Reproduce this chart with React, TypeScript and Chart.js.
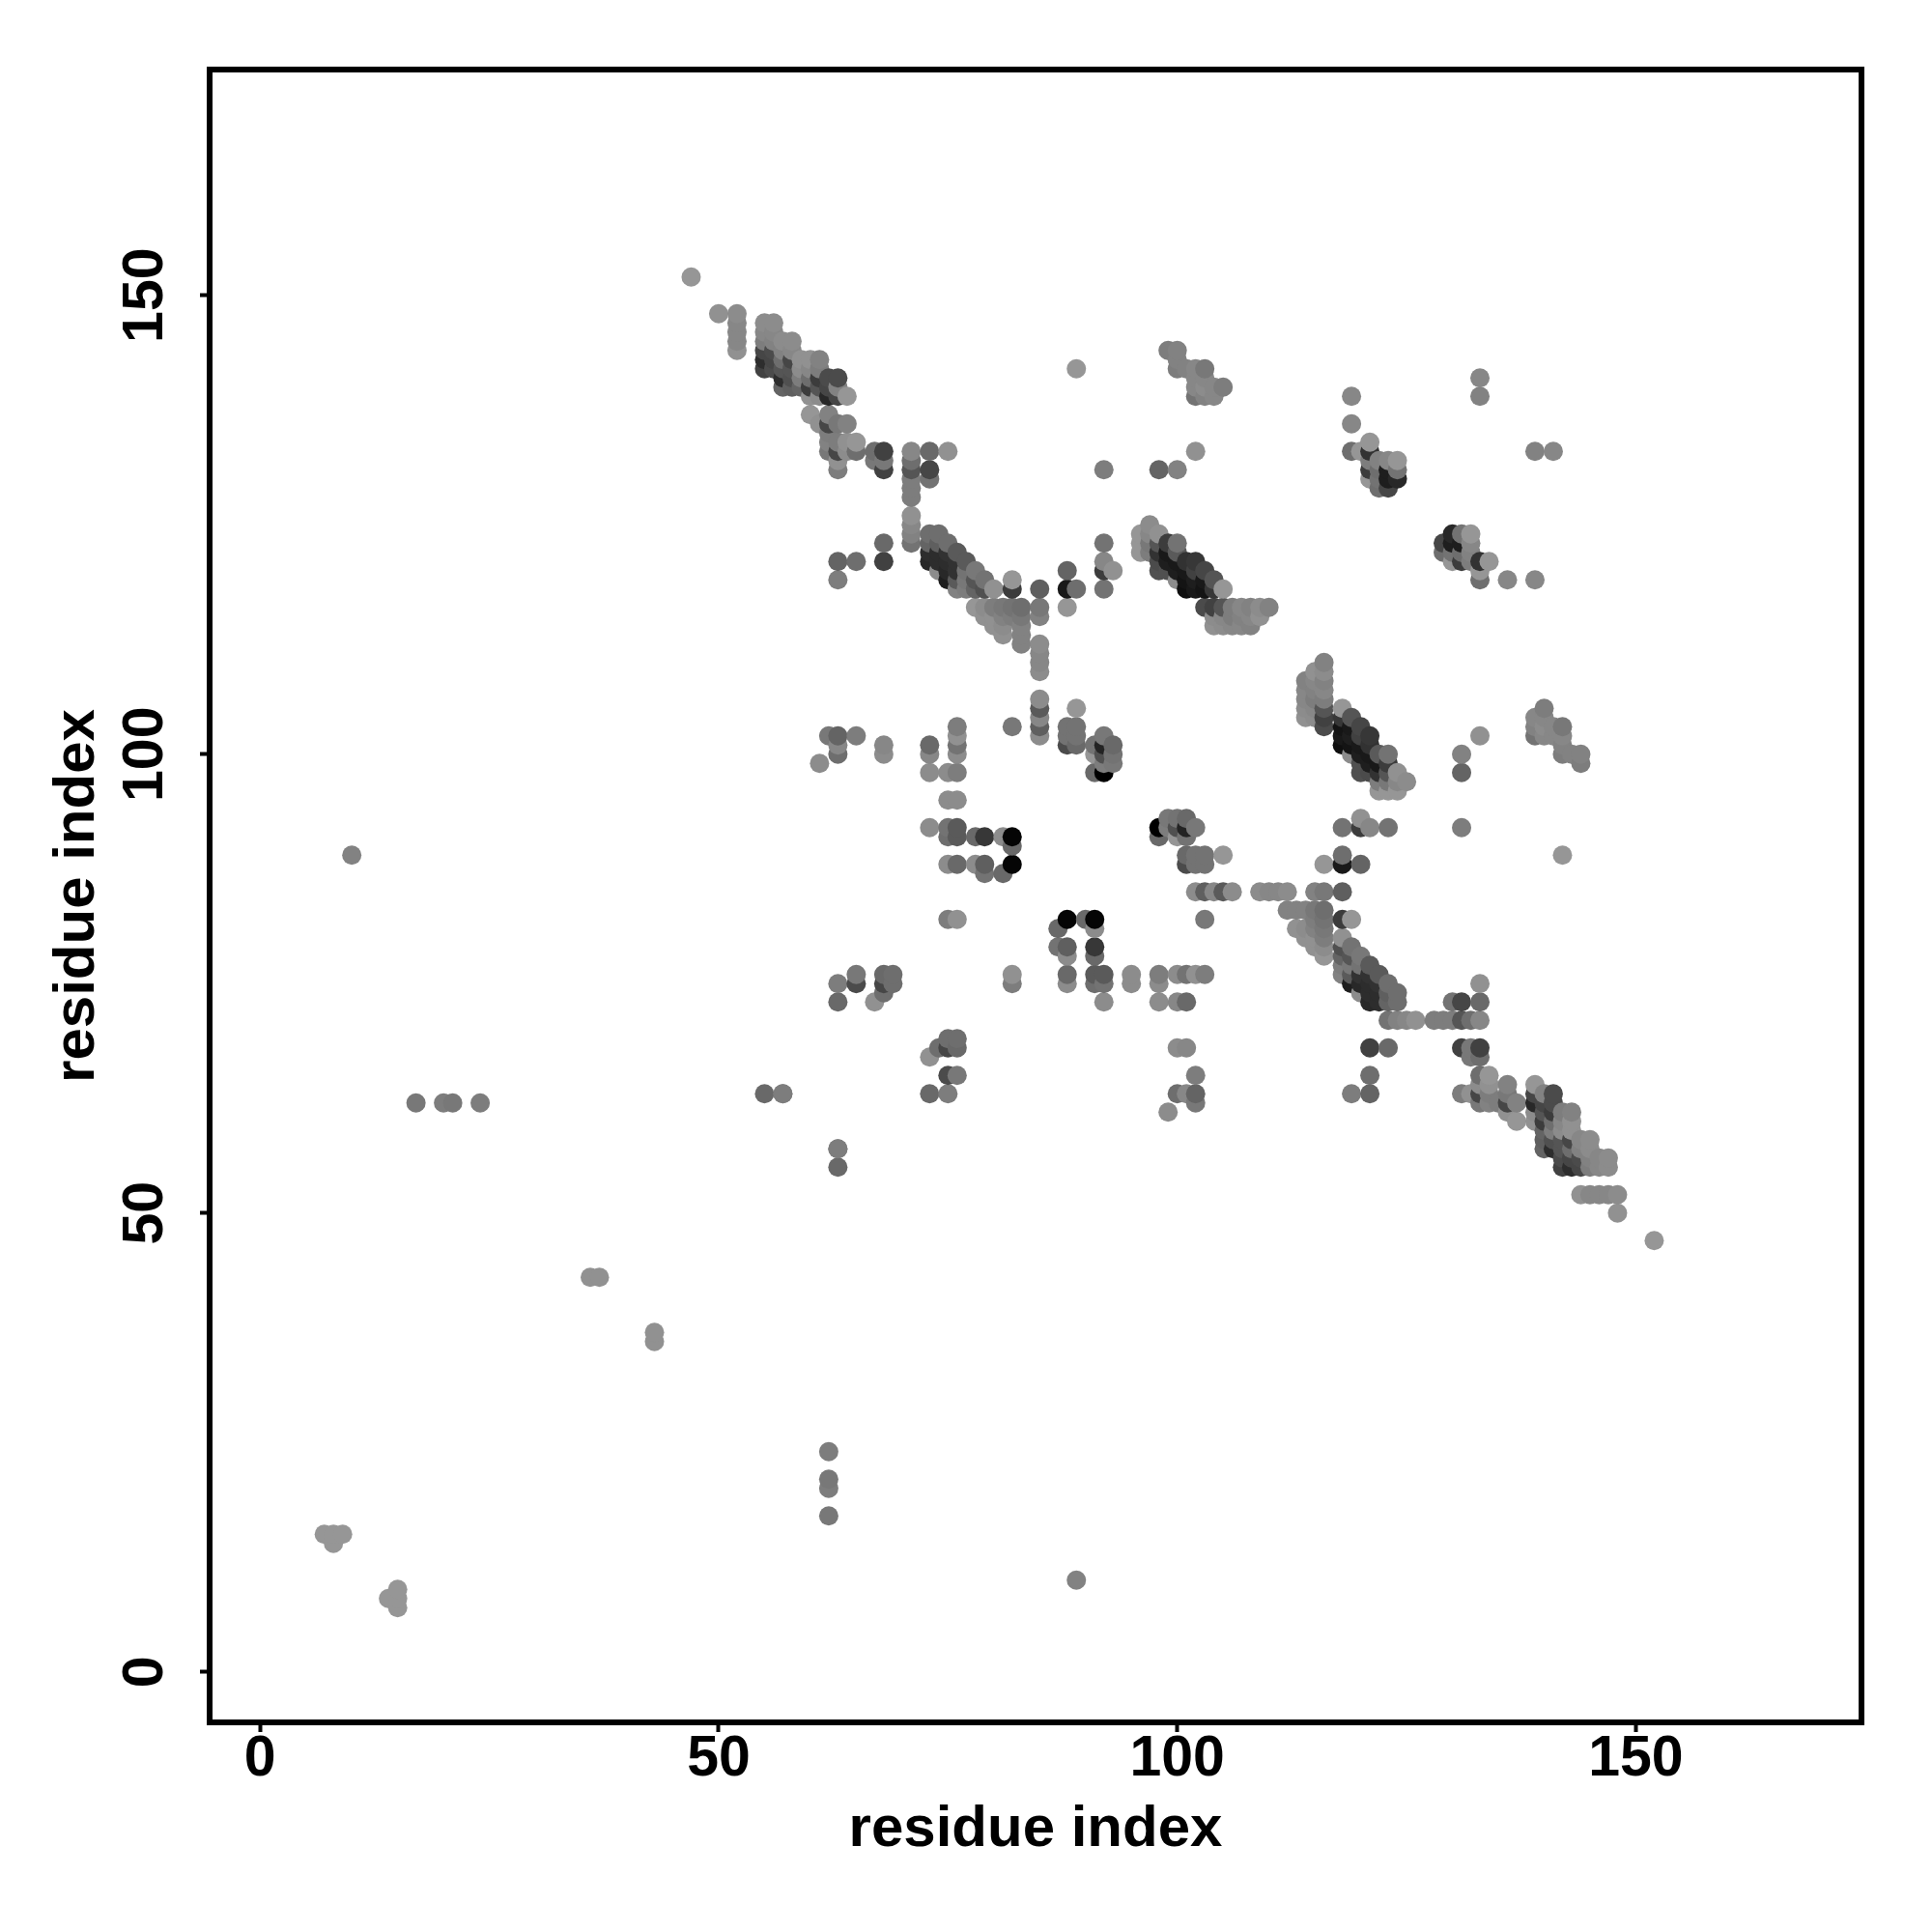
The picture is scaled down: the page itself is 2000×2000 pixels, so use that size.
import { useEffect, useRef } from "react";
import { Chart, registerables } from "chart.js";

Chart.register(...registerables);

// Each contact: [residue i, residue j, grey level]. The map is symmetric, so (j, i) is drawn as well.
type Contact = [number, number, number];

const tailContacts: Contact[] = [
  [7, 15, 150], [8, 15, 150], [9, 15, 150], [8, 14, 150], [10, 89, 130], [17, 62, 120], [20, 62, 125], [21, 62, 120],
  [24, 62, 125], [36, 43, 145], [37, 43, 145], [47, 152, 150], [50, 148, 145],
  [52, 148, 140], [52, 147, 135], [52, 146, 135], [52, 145, 135], [52, 144, 145], [55, 63, 105], [57, 63, 125],
];

const bandNterm: Contact[] = [
  [55, 147, 140], [55, 146, 135], [55, 145, 125], [55, 144, 70], [55, 143, 45], [55, 142, 65],
  [56, 147, 140], [56, 146, 135], [56, 145, 130], [56, 144, 75], [56, 143, 70], [56, 142, 75],
  [57, 145, 140], [57, 144, 130], [57, 143, 110], [57, 142, 85], [57, 141, 45], [57, 140, 100],
  [58, 145, 140], [58, 144, 135], [58, 143, 70], [58, 142, 85], [58, 141, 80], [58, 140, 95],
  [59, 143, 145], [59, 142, 140], [59, 141, 125], [59, 140, 100],
  [60, 143, 145], [60, 142, 135], [60, 141, 110], [60, 140, 60], [60, 139, 145], [60, 137, 150],
  [61, 143, 130], [61, 142, 125], [61, 141, 60], [61, 140, 85], [61, 139, 140], [61, 136, 145],
  [62, 141, 75], [62, 140, 70], [62, 139, 40], [62, 137, 130], [62, 136, 70], [62, 135, 125], [62, 134, 130], [62, 133, 120],
  [63, 141, 75], [63, 140, 130], [63, 139, 70], [63, 136, 120], [63, 134, 125], [63, 133, 70], [63, 132, 145], [63, 131, 125],
  [64, 139, 150], [64, 136, 130], [64, 134, 145], [64, 133, 140],
  [65, 134, 150], [65, 133, 110],
];

const loopContacts: Contact[] = [
  [67, 133, 110], [67, 132, 120], [68, 133, 65], [68, 132, 120], [68, 131, 65],
  [71, 133, 135], [71, 132, 110], [71, 131, 85], [71, 130, 125], [71, 129, 125], [71, 128, 125],
  [71, 126, 145], [71, 125, 135], [71, 124, 130], [71, 123, 115],
  [73, 133, 105], [73, 131, 70], [73, 130, 115], [75, 133, 145], [89, 142, 150], [92, 131, 125],
  [68, 123, 105], [68, 121, 65], [63, 121, 100], [65, 121, 110], [63, 119, 125],
  [61, 99, 140], [62, 102, 120], [63, 102, 100], [63, 101, 135], [63, 100, 110], [65, 102, 125],
  [68, 101, 135], [68, 100, 140], [73, 101, 105], [73, 100, 135], [73, 98, 140], [75, 98, 140], [76, 98, 125],
  [76, 103, 125], [76, 102, 145], [76, 101, 115], [76, 100, 140], [75, 95, 140], [76, 95, 140],
  [73, 92, 140], [75, 92, 115], [76, 92, 90], [75, 91, 110], [76, 91, 90],
  [78, 91, 105], [79, 91, 55], [81, 91, 140], [82, 91, 5], [82, 90, 105], [82, 88, 5],
  [81, 87, 105], [79, 87, 115], [79, 88, 95], [78, 88, 140], [75, 88, 140], [76, 88, 105],
  [82, 103, 120], [75, 82, 125], [76, 82, 145],
  [63, 75, 125], [63, 73, 105], [65, 76, 120], [65, 75, 75], [67, 73, 145], [68, 76, 105], [69, 76, 110],
  [68, 75, 70], [69, 75, 110], [68, 74, 110], [63, 57, 125],
];

const bandMiddle: Contact[] = [
  [73, 124, 110], [73, 123, 100], [73, 122, 45], [73, 121, 40],
  [74, 124, 110], [74, 123, 95], [74, 122, 45], [74, 121, 45], [74, 120, 140],
  [75, 123, 110], [75, 122, 50], [75, 121, 45], [75, 120, 40], [75, 119, 30],
  [76, 122, 90], [76, 121, 50], [76, 120, 50], [76, 119, 90], [76, 118, 130],
  [77, 121, 90], [77, 120, 115], [77, 119, 120], [77, 118, 125],
  [78, 120, 120], [78, 119, 85], [78, 118, 100], [79, 119, 115], [79, 118, 80], [80, 118, 145],
  [78, 116, 150], [79, 116, 140], [80, 116, 125], [81, 116, 120], [82, 116, 115], [83, 116, 110],
  [79, 115, 145], [80, 115, 145], [81, 115, 130], [82, 115, 125], [83, 115, 120],
  [80, 114, 145], [81, 114, 140], [83, 114, 130], [81, 113, 145], [83, 113, 130], [83, 112, 130],
  [82, 119, 150], [82, 118, 60],
  [85, 118, 95], [85, 116, 120], [85, 115, 130], [85, 112, 140], [85, 111, 135], [85, 110, 135], [85, 109, 140],
  [85, 106, 140], [85, 105, 90], [85, 104, 135], [85, 103, 95], [85, 102, 140],
  [88, 120, 100], [88, 118, 25], [89, 118, 110], [88, 116, 150],
  [92, 123, 115], [92, 121, 135], [92, 120, 60], [93, 120, 145], [92, 118, 115],
  [89, 105, 150], [88, 103, 115], [89, 103, 115], [88, 102, 115], [89, 102, 115], [88, 101, 75], [89, 101, 105],
  [91, 101, 115], [91, 100, 150], [91, 98, 105],
  [92, 102, 120], [92, 101, 35], [92, 100, 80], [92, 99, 125], [92, 98, 0],
  [93, 101, 105], [93, 100, 115], [93, 99, 120],
];

const bandCterm: Contact[] = [
  [96, 124, 150], [96, 123, 150], [96, 122, 150],
  [97, 125, 140], [97, 124, 135], [97, 123, 120], [97, 122, 125],
  [98, 124, 145], [98, 123, 85], [98, 122, 50], [98, 121, 75], [98, 120, 80],
  [99, 123, 60], [99, 122, 25], [99, 121, 30], [99, 120, 80],
  [100, 123, 115], [100, 122, 90], [100, 121, 25], [100, 120, 30], [100, 119, 140],
  [101, 121, 50], [101, 120, 25], [101, 119, 20], [101, 118, 15],
  [102, 121, 55], [102, 120, 65], [102, 119, 30], [102, 118, 25],
  [103, 120, 70], [103, 119, 25], [103, 118, 20], [104, 119, 85], [104, 118, 55], [105, 118, 150],
  [103, 116, 75], [104, 116, 65], [105, 116, 85], [106, 116, 125], [107, 116, 135], [108, 116, 130], [109, 116, 140], [110, 116, 130],
  [104, 115, 140], [105, 115, 135], [106, 115, 125], [107, 115, 130], [108, 115, 135], [109, 115, 145],
  [104, 114, 145], [105, 114, 140], [106, 114, 135], [107, 114, 135], [108, 114, 130],
];

const farContacts: Contact[] = [
  [99, 144, 125], [100, 144, 130], [100, 143, 130], [100, 142, 125], [101, 142, 130], [102, 142, 135], [103, 142, 120],
  [102, 141, 135], [102, 140, 135], [102, 139, 115], [103, 141, 135], [103, 140, 140], [103, 139, 130],
  [104, 140, 135], [104, 139, 135], [105, 140, 125],
  [98, 131, 100], [100, 131, 130], [102, 133, 145],
  [119, 139, 135], [119, 136, 135], [119, 133, 110], [120, 133, 150], [121, 134, 150], [121, 133, 50],
  [121, 132, 125], [121, 131, 60], [121, 130, 150],
  [122, 132, 130], [122, 131, 110], [122, 130, 115], [122, 129, 110],
  [123, 132, 135], [123, 131, 30], [123, 130, 30], [123, 129, 70],
  [124, 132, 150], [124, 131, 115], [124, 130, 40],
  [133, 141, 135], [133, 139, 130],
];

const allContacts: Contact[] = [
  ...tailContacts, ...bandNterm, ...loopContacts, ...bandMiddle, ...bandCterm, ...farContacts,
];

const tickValues = [0, 50, 100, 150];
const axisTitle = "residue index";
const axisMin = -5.5;
const axisMax = 174.6;

export default function App() {
  const ref = useRef<HTMLCanvasElement>(null);
  useEffect(() => {
    document.body.style.margin = "0";
    const points = allContacts
      .flatMap(([i, j, s]) => [
        { x: i, y: j, s },
        { x: j, y: i, s },
      ])
      .sort((a, b) => a.x - b.x || a.y - b.y);
    const tickFont = 'bold 59px "Liberation Sans"';
    const frame = {
      id: "frame",
      afterDraw(c: any) {
        const { ctx, chartArea: a, scales } = c;
        ctx.save();
        ctx.strokeStyle = "#000";
        ctx.lineWidth = 6;
        ctx.strokeRect(a.left, a.top, a.right - a.left, a.bottom - a.top);
        ctx.fillStyle = "#000";
        ctx.font = tickFont;
        ctx.textAlign = "center";
        ctx.textBaseline = "middle";
        for (const v of tickValues) {
          ctx.save();
          ctx.translate(152, scales.y.getPixelForValue(v));
          ctx.rotate(-Math.PI / 2);
          ctx.fillText(String(v), 0, 0);
          ctx.restore();
        }
        ctx.restore();
      },
    };
    const chart = new Chart(ref.current!, {
      type: "scatter",
      data: {
        datasets: [
          {
            data: points,
            pointBackgroundColor: points.map((p) => `rgb(${p.s},${p.s},${p.s})`),
            pointBorderWidth: 0,
            pointRadius: 10,
            pointHoverRadius: 10,
            clip: false,
          },
        ],
      },
      options: {
        animation: false,
        responsive: false,
        layout: { padding: { top: 72, right: 73, left: 0, bottom: 0 } },
        plugins: { legend: { display: false }, tooltip: { enabled: false } },
        scales: {
          x: {
            type: "linear",
            min: axisMin,
            max: axisMax,
            afterBuildTicks: (s: any) => {
              s.ticks = tickValues.map((value) => ({ value }));
            },
            afterFit: (s: any) => {
              s.height = 217;
            },
            border: { display: false },
            grid: { drawOnChartArea: false, tickLength: 10, tickWidth: 4, tickColor: "#000" },
            ticks: { color: "#000", font: { family: "Liberation Sans", weight: "bold", size: 59 }, padding: -7, maxRotation: 0 },
            title: {
              display: true,
              text: axisTitle,
              color: "#000",
              font: { family: "Liberation Sans", weight: "bold", size: 60, lineHeight: 1 },
              padding: { top: 0, bottom: 76 },
            },
          },
          y: {
            type: "linear",
            min: axisMin,
            max: axisMax,
            afterBuildTicks: (s: any) => {
              s.ticks = tickValues.map((value) => ({ value }));
            },
            afterFit: (s: any) => {
              s.width = 217;
            },
            border: { display: false },
            grid: { drawOnChartArea: false, tickLength: 10, tickWidth: 4, tickColor: "#000" },
            ticks: { display: false },
            title: {
              display: true,
              text: axisTitle,
              color: "#000",
              font: { family: "Liberation Sans", weight: "bold", size: 60, lineHeight: 1 },
              padding: { top: 50, bottom: 0 },
            },
          },
        },
      },
      plugins: [frame],
    } as any);
    return () => chart.destroy();
  }, []);
  return <canvas ref={ref} width={2000} height={2000} style={{ display: "block", width: 2000, height: 2000 }} />;
}
